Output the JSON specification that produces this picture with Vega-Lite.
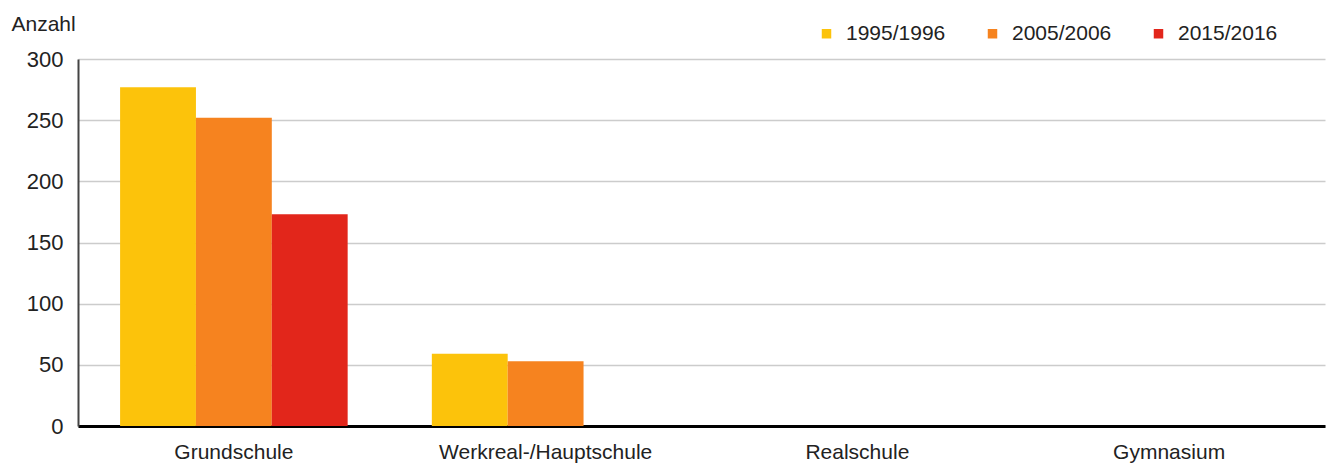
{
  "$schema": "https://vega.github.io/schema/vega-lite/v6.json",
  "autosize": "none",
  "width": 1247,
  "height": 367,
  "padding": {"left": 78, "top": 59, "right": 12, "bottom": 44},
  "background": "#ffffff",
  "config": {
    "font": "Liberation Sans",
    "view": {"stroke": null}
  },
  "data": {
    "values": [
      {"Schulart": "Grundschule", "Jahr": "1995/1996", "Anzahl": 277},
      {"Schulart": "Grundschule", "Jahr": "2005/2006", "Anzahl": 252},
      {"Schulart": "Grundschule", "Jahr": "2015/2016", "Anzahl": 173},
      {"Schulart": "Werkreal-/Hauptschule", "Jahr": "1995/1996", "Anzahl": 59},
      {"Schulart": "Werkreal-/Hauptschule", "Jahr": "2005/2006", "Anzahl": 53},
      {"Schulart": "Werkreal-/Hauptschule", "Jahr": "2015/2016", "Anzahl": 0},
      {"Schulart": "Realschule", "Jahr": "1995/1996", "Anzahl": 0},
      {"Schulart": "Realschule", "Jahr": "2005/2006", "Anzahl": 0},
      {"Schulart": "Realschule", "Jahr": "2015/2016", "Anzahl": 0},
      {"Schulart": "Gymnasium", "Jahr": "1995/1996", "Anzahl": 0},
      {"Schulart": "Gymnasium", "Jahr": "2005/2006", "Anzahl": 0},
      {"Schulart": "Gymnasium", "Jahr": "2015/2016", "Anzahl": 0}
    ]
  },
  "mark": {"type": "bar"},
  "encoding": {
    "x": {
      "field": "Schulart",
      "type": "nominal",
      "sort": ["Grundschule", "Werkreal-/Hauptschule", "Realschule", "Gymnasium"],
      "scale": {"paddingInner": 0.27, "paddingOuter": 0.135},
      "axis": {
        "title": null,
        "labelAngle": 0,
        "labelFontSize": 21,
        "labelLimit": 400,
        "labelColor": "#222222",
        "labelPadding": 15,
        "ticks": false,
        "domainColor": "#000000",
        "domainWidth": 3,
        "grid": false
      }
    },
    "xOffset": {"field": "Jahr", "type": "nominal", "sort": ["1995/1996", "2005/2006", "2015/2016"]},
    "y": {
      "field": "Anzahl",
      "type": "quantitative",
      "scale": {"domain": [0, 300], "nice": false},
      "axis": {
        "values": [0, 50, 100, 150, 200, 250, 300],
        "title": "Anzahl",
        "titleAngle": 0,
        "titleAlign": "left",
        "titleBaseline": "alphabetic",
        "titleX": -67,
        "titleY": -29,
        "titleFontSize": 21,
        "titleFontWeight": "normal",
        "titleColor": "#222222",
        "labelFontSize": 22,
        "labelColor": "#222222",
        "labelPadding": 15,
        "ticks": false,
        "domainColor": "#444444",
        "domainWidth": 2,
        "gridColor": "#cccccc",
        "gridWidth": 1.5
      }
    },
    "color": {
      "field": "Jahr",
      "type": "nominal",
      "scale": {
        "domain": ["1995/1996", "2005/2006", "2015/2016"],
        "range": ["#fcc30b", "#f6831f", "#e2261b"]
      },
      "legend": {
        "title": null,
        "orient": "none",
        "direction": "horizontal",
        "legendX": 738,
        "legendY": -36,
        "symbolType": "square",
        "symbolSize": 90,
        "symbolStrokeWidth": 0,
        "labelFontSize": 21,
        "labelColor": "#222222",
        "labelOffset": 9,
        "columnPadding": 36
      }
    }
  }
}
